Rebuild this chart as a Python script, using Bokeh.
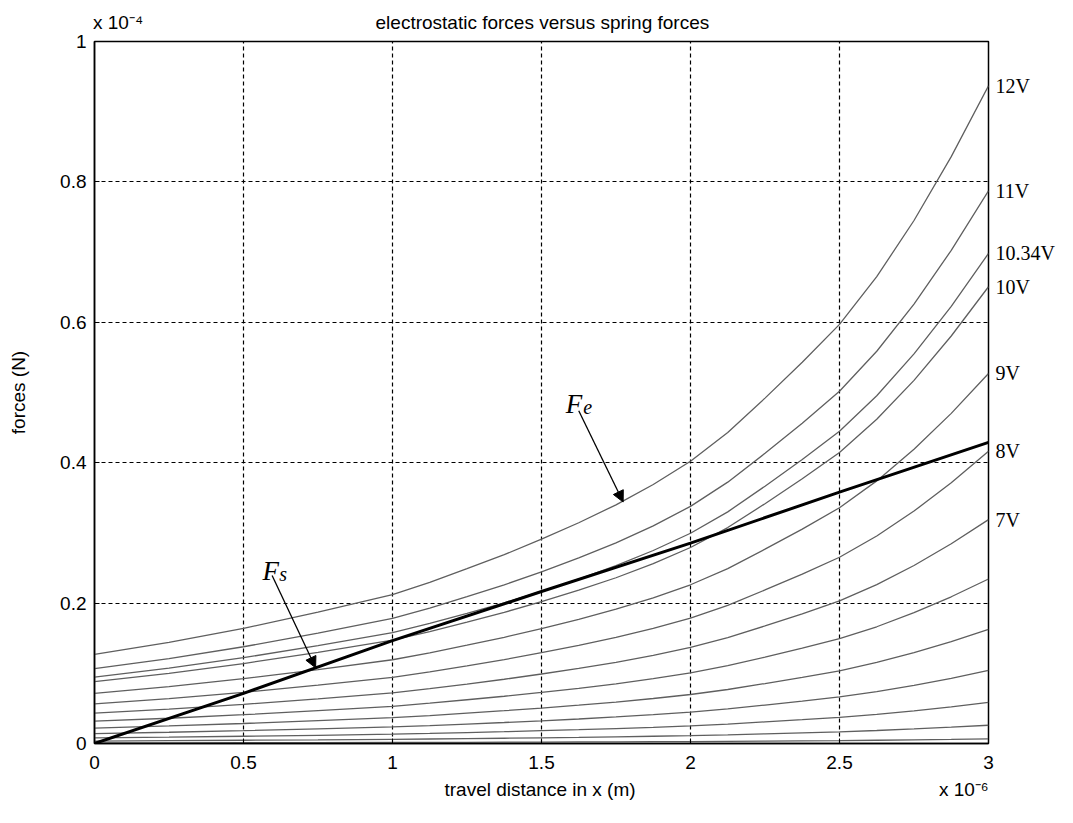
from bokeh.plotting import figure
from bokeh.models import Range1d, FixedTicker, Label, Arrow, NormalHead, LinearAxis
from bokeh.embed import file_html
from bokeh.resources import INLINE

# ---------------- data (x in 1e-6 m, forces in 1e-4 N) ----------------
x_pos = [0.0, 0.25, 0.5, 0.75, 1.0, 1.125, 1.25, 1.375, 1.5, 1.625, 1.75, 1.875,
         2.0, 2.125, 2.25, 2.375, 2.5, 2.625, 2.75, 2.875, 3.0]

fe_12V = [0.127, 0.144, 0.164, 0.187, 0.212, 0.2295, 0.249, 0.269, 0.291, 0.3145, 0.340,
          0.369, 0.402, 0.443, 0.492, 0.543, 0.597, 0.665, 0.745, 0.836, 0.937]
fe_11V = [0.1067, 0.1210, 0.1378, 0.1571, 0.1781, 0.1928, 0.2092, 0.2260, 0.2445, 0.2643,
          0.2857, 0.3101, 0.3378, 0.3723, 0.4134, 0.4563, 0.5017, 0.5588, 0.6260, 0.7025, 0.7874]
fe_1034V = [0.0946, 0.1073, 0.1222, 0.1393, 0.1579, 0.1710, 0.1855, 0.2004, 0.2168, 0.2343,
            0.2533, 0.2749, 0.2995, 0.3300, 0.3665, 0.4045, 0.4448, 0.4954, 0.5550, 0.6228, 0.6981]
fe_10V = [0.0882, 0.1000, 0.1139, 0.1299, 0.1472, 0.1594, 0.1729, 0.1868, 0.2021, 0.2184,
          0.2361, 0.2562, 0.2792, 0.3076, 0.3416, 0.3771, 0.4146, 0.4618, 0.5173, 0.5805, 0.6507]
fe_9V = [0.0714, 0.0810, 0.0923, 0.1052, 0.1193, 0.1291, 0.1401, 0.1513, 0.1637, 0.1769,
         0.1913, 0.2076, 0.2261, 0.2492, 0.2768, 0.3054, 0.3358, 0.3741, 0.4191, 0.4703, 0.5271]
fe_8V = [0.0564, 0.0640, 0.0729, 0.0831, 0.0942, 0.1020, 0.1107, 0.1195, 0.1293, 0.1398,
         0.1511, 0.1640, 0.1787, 0.1969, 0.2187, 0.2413, 0.2653, 0.2955, 0.3311, 0.3715, 0.4164]
fe_7V = [0.0432, 0.0490, 0.0558, 0.0636, 0.0721, 0.0781, 0.0847, 0.0915, 0.0990, 0.1070,
         0.1157, 0.1256, 0.1368, 0.1508, 0.1674, 0.1848, 0.2032, 0.2263, 0.2535, 0.2845, 0.3189]
fe_6V = [0.0318, 0.0360, 0.0410, 0.0468, 0.0530, 0.0574, 0.0623, 0.0673, 0.0728, 0.0786,
         0.0850, 0.0923, 0.1005, 0.1108, 0.1230, 0.1358, 0.1493, 0.1663, 0.1863, 0.2090, 0.2343]
fe_5V = [0.0220, 0.0250, 0.0285, 0.0325, 0.0368, 0.0398, 0.0432, 0.0467, 0.0505, 0.0546,
         0.0590, 0.0641, 0.0698, 0.0769, 0.0854, 0.0943, 0.1036, 0.1154, 0.1293, 0.1451, 0.1627]
fe_4V = [0.0141, 0.0160, 0.0182, 0.0208, 0.0236, 0.0255, 0.0277, 0.0299, 0.0323, 0.0349,
         0.0378, 0.0410, 0.0447, 0.0492, 0.0547, 0.0603, 0.0663, 0.0739, 0.0828, 0.0929, 0.1041]
fe_3V = [0.0079, 0.0090, 0.0103, 0.0117, 0.0133, 0.0143, 0.0156, 0.0168, 0.0182, 0.0197,
         0.0213, 0.0231, 0.0251, 0.0277, 0.0308, 0.0339, 0.0373, 0.0416, 0.0466, 0.0523, 0.0586]
fe_2V = [0.0035, 0.0040, 0.0046, 0.0052, 0.0059, 0.0064, 0.0069, 0.0075, 0.0081, 0.0087,
         0.0094, 0.0103, 0.0112, 0.0123, 0.0137, 0.0151, 0.0166, 0.0185, 0.0207, 0.0232, 0.0260]
fe_1V = [0.0009, 0.0010, 0.0011, 0.0013, 0.0015, 0.0016, 0.0017, 0.0019, 0.0020, 0.0022,
         0.0024, 0.0026, 0.0028, 0.0031, 0.0034, 0.0038, 0.0041, 0.0046, 0.0052, 0.0058, 0.0065]

spring_x = [0.0, 0.5, 1.0, 1.5, 2.0, 2.5, 3.0]
spring_f = [0.0, 0.0715, 0.1465, 0.2165, 0.2855, 0.358, 0.429]

curve_names = ["12", "11", "10.34", "10", "9", "8", "7", "6", "5", "4", "3", "2", "1"]
curve_vals = [fe_12V, fe_11V, fe_1034V, fe_10V, fe_9V, fe_8V, fe_7V,
              fe_6V, fe_5V, fe_4V, fe_3V, fe_2V, fe_1V]
labelled = ["12", "11", "10.34", "10", "9", "8", "7"]

x_ticks = [0, 0.5, 1, 1.5, 2, 2.5, 3]
x_tick_labels = ["0", "0.5", "1", "1.5", "2", "2.5", "3"]
y_ticks = [0, 0.2, 0.4, 0.6, 0.8, 1]
y_tick_labels = ["0", "0.2", "0.4", "0.6", "0.8", "1"]

title_text = "electrostatic forces versus spring forces"
ylabel_text = "forces (N)"
xlabel_text = "travel distance in x (m)"
y_exp_text = "x 10\u207b\u2074"
x_exp_text = "x 10\u207b\u2076"

SANS = "Liberation Sans"
SERIF = "Liberation Serif"

# ---------------- figure ----------------
p = figure(width=1057, height=807, output_backend="svg", toolbar_location=None,
           x_range=Range1d(0, 3), y_range=Range1d(0, 1),
           min_border_left=94, min_border_right=68, min_border_top=41, min_border_bottom=64)
p.background_fill_color = "white"
p.border_fill_color = "white"
p.outline_line_color = "black"
p.outline_line_width = 1.5

for ax, ticks, labs in ((p.xaxis[0], x_ticks, x_tick_labels), (p.yaxis[0], y_ticks, y_tick_labels)):
    ax.ticker = FixedTicker(ticks=ticks)
    ax.major_label_overrides = {t: l for t, l in zip(ticks, labs)}
    ax.minor_tick_line_color = None
    ax.major_tick_in = 5
    ax.major_tick_out = 0
    ax.major_tick_line_color = "black"
    ax.axis_line_color = "black"
    ax.axis_line_width = 1.5
    ax.major_label_text_font = SANS
    ax.major_label_text_font_size = "19px"
    ax.major_label_text_color = "black"

p.xaxis.major_label_standoff = 12
p.yaxis.major_label_standoff = 8
p.yaxis.axis_label = ylabel_text
p.yaxis.axis_label_text_font = SANS
p.yaxis.axis_label_text_font_size = "19px"
p.yaxis.axis_label_text_font_style = "normal"
p.yaxis.axis_label_text_color = "black"
p.yaxis.axis_label_standoff = 28


def text_axis(ticks, labels, font, size, standoff, style="normal"):
    ax = LinearAxis(ticker=FixedTicker(ticks=ticks),
                    major_label_overrides={t: l for t, l in zip(ticks, labels)},
                    major_tick_in=0, major_tick_out=0, minor_tick_line_color=None,
                    major_tick_line_color=None, axis_line_color=None,
                    major_label_standoff=standoff, major_label_text_font=font,
                    major_label_text_font_size=size, major_label_text_color="black",
                    major_label_text_font_style=style)
    return ax


# title and y exponent along the top edge
top_pos = [0.079, 1.503]
p.add_layout(text_axis(top_pos, [y_exp_text, title_text], SANS, "19px", 9), "above")

# x-axis title and x exponent below the tick labels
bottom_pos = [1.495, 2.917]
p.add_layout(text_axis(bottom_pos, [xlabel_text, x_exp_text], SANS, "19px", 7), "below")

# voltage labels at the right end of each labelled curve
end_vals = [vals[-1] for name, vals in zip(curve_names, curve_vals) if name in labelled]
end_text = [name + "V" for name in curve_names if name in labelled]
p.add_layout(text_axis(end_vals, end_text, SERIF, "20px", 7), "right")

p.xgrid.ticker = FixedTicker(ticks=x_ticks)
p.ygrid.ticker = FixedTicker(ticks=y_ticks)
p.grid.grid_line_color = "black"
p.grid.grid_line_dash = "4 3"
p.grid.grid_line_width = 1.2

# ---------------- curves ----------------
for name, vals in zip(curve_names, curve_vals):
    p.line(x_pos, vals, line_color="#5f5f5f", line_width=1.3)

p.line(spring_x, spring_f, line_color="black", line_width=3)

# F_e and F_s annotations
p.add_layout(Label(x=1.581, y=0.484, text="F", text_font=SERIF, text_font_size="27px",
                   text_font_style="italic", text_baseline="alphabetic", text_color="black"))
p.add_layout(Label(x=1.640, y=0.479, text="e", text_font=SERIF, text_font_size="20px",
                   text_font_style="italic", text_baseline="alphabetic", text_color="black"))
p.add_layout(Arrow(end=NormalHead(size=11, fill_color="black", line_color="black"),
                   x_start=1.625, y_start=0.474, x_end=1.774, y_end=0.344,
                   line_color="black", line_width=1.3))

p.add_layout(Label(x=0.564, y=0.2464, text="F", text_font=SERIF, text_font_size="27px",
                   text_font_style="italic", text_baseline="alphabetic", text_color="black"))
p.add_layout(Label(x=0.620, y=0.2415, text="s", text_font=SERIF, text_font_size="20px",
                   text_font_style="italic", text_baseline="alphabetic", text_color="black"))
p.add_layout(Arrow(end=NormalHead(size=11, fill_color="black", line_color="black"),
                   x_start=0.596, y_start=0.2393, x_end=0.742, y_end=0.1078,
                   line_color="black", line_width=1.3))

open("out.html", "w").write(file_html(p, INLINE))
